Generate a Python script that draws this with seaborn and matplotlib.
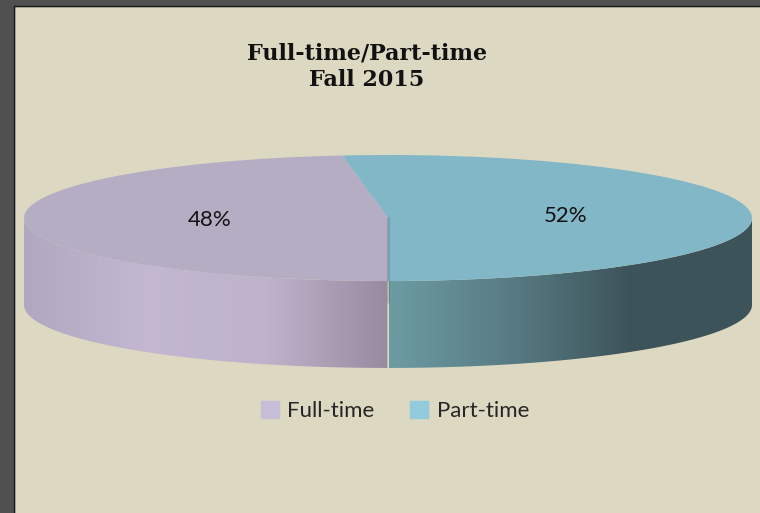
import numpy as np
import matplotlib
matplotlib.use('Agg')
import matplotlib.pyplot as plt
import matplotlib.patches as mpatches
from matplotlib.colors import LinearSegmentedColormap
import seaborn as sns

# data
categories = ['Full-time', 'Part-time']
shares = [48, 52]
title_lines = ['Full-time/Part-time', 'Fall 2015']

# colours (top face, legend swatch, side-wall gradient left->right)
top_colors = ['#B5ADC4', '#82B7C8']
legend_colors = ['#C6BDD9', '#92CBDC']
side_stops = [['#B0A8C0', '#C3B7D1', '#BEB3CB', '#978BA0'],
              ['#6C9CA3', '#587B83', '#3D535A', '#3D535A']]

sns.set_theme(style='white')
plt.rcParams['font.family'] = ['Lato', 'DejaVu Sans']

fig = plt.figure(figsize=(7.6, 5.13), dpi=100, facecolor='#DDD8C2')
ax = fig.add_axes([0, 0, 1, 1])
ax.set_facecolor('none')

depth = 1.38  # thickness of the disc, in y units of the top ellipse

wedges, _, autotexts = ax.pie(
    shares, colors=top_colors, startangle=270, counterclock=False,
    autopct='%d%%', pctdistance=0.49,
    wedgeprops=dict(linewidth=0, zorder=3),
    textprops=dict(fontsize=16, color='#111111'))
for t in autotexts:
    t.set_zorder(5)

# side walls: only the front half (180..360 deg) is visible
for w, stops in zip(wedges, side_stops):
    t1, t2 = w.theta1, w.theta2
    ang = np.linspace(180, 360, 721)
    inside = ((ang - t1) % 360) <= (t2 - t1)
    vis = ang[inside]
    if len(vis) < 2:
        continue
    lo = max(vis.min() - 0.15, 180)
    hi = min(vis.max() + 0.15, 360)
    rad = np.deg2rad(np.linspace(lo, hi, 400))
    xs = np.cos(rad)
    ys = np.sin(rad)
    pts = np.concatenate([np.column_stack([xs, ys]),
                          np.column_stack([xs[::-1], ys[::-1] - depth])])
    poly = mpatches.Polygon(pts, closed=True, facecolor='none', linewidth=0, zorder=2)
    ax.add_patch(poly)
    cmap = LinearSegmentedColormap.from_list('side', stops)
    grad = np.linspace(0, 1, 256)[None, :]
    im = ax.imshow(grad, cmap=cmap, aspect='auto', zorder=2,
                   extent=[xs.min(), xs.max(), -depth - 1, 0])
    im.set_clip_path(poly)

# edge of the cut face seen through the top
ax.plot([0, 0], [0, -depth + 0.05], color='black', alpha=0.12, linewidth=2, zorder=4)

ax.set_aspect('auto')
ax.set_xlim(-388 / 364, 372 / 364)
ax.set_ylim((218 - 513) / 63, 218 / 63)
ax.axis('off')

# title
fig.text(367 / 760, 1 - 54 / 513, title_lines[0], ha='center', va='center',
         family='DejaVu Serif', weight='bold', fontsize=16, color='#111111')
fig.text(367 / 760, 1 - 80 / 513, title_lines[1], ha='center', va='center',
         family='DejaVu Serif', weight='bold', fontsize=16, color='#111111')

# legend
handles = [mpatches.Patch(color=c, label=l) for c, l in zip(legend_colors, categories)]
fig.legend(handles=handles, ncol=2, loc='center', bbox_to_anchor=(395 / 760, 1 - 411 / 513),
           frameon=False, fontsize=16, handlelength=0.8, handleheight=0.8,
           handletextpad=0.4, columnspacing=1.6)

# dark frame on the left and top
fig.add_artist(mpatches.Rectangle((0, 0), 14 / 760, 1, transform=fig.transFigure,
                                  color='#505050', zorder=0))
fig.add_artist(mpatches.Rectangle((0, 1 - 6 / 513), 1, 6 / 513, transform=fig.transFigure,
                                  color='#505050', zorder=0))
fig.add_artist(plt.Line2D([14 / 760, 14 / 760], [0, 1 - 6 / 513], transform=fig.transFigure,
                          color='#1A1A1A', linewidth=1))
fig.add_artist(plt.Line2D([14 / 760, 1], [1 - 6 / 513, 1 - 6 / 513], transform=fig.transFigure,
                          color='#1A1A1A', linewidth=1))

fig.savefig('out.png', dpi=100, facecolor=fig.get_facecolor())
